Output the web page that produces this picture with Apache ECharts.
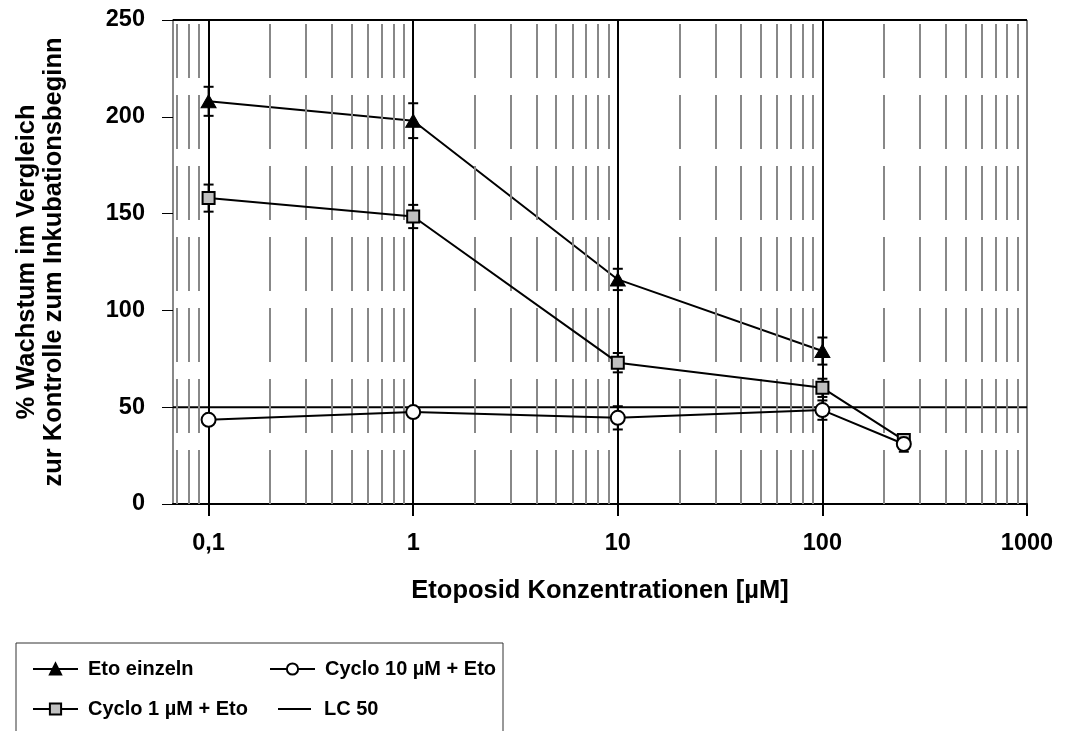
<!DOCTYPE html>
<html>
<head>
<meta charset="utf-8">
<script src="https://cdn.jsdelivr.net/npm/echarts@6/dist/echarts.min.js"></script>
<style>
html,body{margin:0;padding:0;background:#fff;}
#chart{width:1069px;height:731px;}
</style>
</head>
<body>
<div id="chart"></div>
<script>
// ---- data ----
const concentrations = [0.1, 1, 10, 100, 250];
const etoEinzeln      = [208, 198, 116, 79, null];
const etoEinzelnErr   = [7.5, 9, 5.5, 7, null];
const cyclo1          = [158, 148.5, 73, 60, 33];
const cyclo1Err       = [7, 6, 5, 4.7, 2];
const cyclo10         = [43.5, 47.5, 44.5, 48.5, 31];
const cyclo10Err      = [2, 2, 6, 5, 4];
const lc50Value       = 50;
const xTickValues     = [0.1, 1, 10, 100, 1000];
const seriesNames     = ['Eto einzeln', 'Cyclo 10 µM + Eto', 'Cyclo 1 µM + Eto', 'LC 50'];
const xMin = 0.067, xMax = 1000;

const FONT = "'Liberation Sans', Arial, sans-serif";

// minor log gridlines (2..9 within each decade) and major decade lines
const minorGrid = [];
[0.01, 0.1, 1, 10, 100].forEach(d => {
  for (let k = 2; k <= 9; k++) {
    const v = +(d * k).toPrecision(3);
    if (v > xMin && v < xMax) minorGrid.push(v);
  }
});
const majorGrid = [0.1, 1, 10, 100];

function pairs(vals) {
  return concentrations.map((c, i) => vals[i] == null ? null : [c, vals[i]]).filter(p => p);
}
function errRows(vals, errs) {
  return concentrations.map((c, i) => vals[i] == null ? null : [c, vals[i], errs[i]]).filter(p => p);
}

function errorSeries(vals, errs, z) {
  return {
    type: 'custom',
    data: errRows(vals, errs),
    z: z,
    silent: true,
    renderItem: function (params, api) {
      const x = api.value(0), y = api.value(1), e = api.value(2);
      const top = api.coord([x, y + e]);
      const bot = api.coord([x, y - e]);
      const w = 5;
      const style = { stroke: '#000', lineWidth: 2 };
      return {
        type: 'group',
        children: [
          { type: 'line', shape: { x1: top[0], y1: top[1], x2: bot[0], y2: bot[1] }, style: style },
          { type: 'line', shape: { x1: top[0] - w, y1: top[1], x2: top[0] + w, y2: top[1] }, style: style },
          { type: 'line', shape: { x1: bot[0] - w, y1: bot[1], x2: bot[0] + w, y2: bot[1] }, style: style }
        ]
      };
    }
  };
}

const chart = echarts.init(document.getElementById('chart'), null, { renderer: 'canvas' });

const legendText = { fontFamily: FONT, fontWeight: 'bold', fontSize: 20, color: '#000', padding: [0, 0, 0, 5] };
function legendAt(name, left, top, extra) {
  return Object.assign({
    data: [name], left: left, top: top, orient: 'horizontal',
    itemWidth: 45, itemHeight: 14, padding: 0, textStyle: legendText,
    selectedMode: false
  }, extra || {});
}

const option = {
  animation: false,
  backgroundColor: '#fff',
  grid: { left: 173, right: 42, top: 20, bottom: 227, show: true, borderColor: '#000', borderWidth: 1 },
  xAxis: {
    type: 'log',
    min: xMin, max: xMax, logBase: 10,
    name: 'Etoposid Konzentrationen [µM]',
    nameLocation: 'middle', nameGap: 74,
    nameTextStyle: { fontFamily: FONT, fontWeight: 'bold', fontSize: 25.5, color: '#000' },
    axisLine: { show: true, lineStyle: { color: '#000', width: 2 } },
    axisTick: { show: true, customValues: xTickValues, length: 12, inside: false, lineStyle: { color: '#000', width: 2 } },
    axisLabel: {
      customValues: xTickValues, margin: 28,
      fontFamily: FONT, fontWeight: 'bold', fontSize: 23.5, color: '#000',
      formatter: v => String(v).replace('.', ',')
    },
    splitLine: { show: false },
    minorTick: { show: false }, minorSplitLine: { show: false }
  },
  yAxis: {
    type: 'value', min: 0, max: 250, interval: 50,
    name: '% Wachstum im Vergleich\nzur Kontrolle zum Inkubationsbeginn',
    nameLocation: 'middle', nameGap: 106, nameRotate: 90,
    nameTextStyle: { fontFamily: FONT, fontWeight: 'bold', fontSize: 25.5, color: '#000', lineHeight: 27, align: 'center' },
    axisLine: { show: true, lineStyle: { color: '#888', width: 2 } },
    axisTick: { show: true, length: 11, inside: false, lineStyle: { color: '#000', width: 1 } },
    axisLabel: { margin: 28, fontFamily: FONT, fontWeight: 'bold', fontSize: 23.5, color: '#000' },
    splitLine: { show: false }
  },
  legend: [
    legendAt(seriesNames[0], 32, 659),
    legendAt(seriesNames[1], 269, 659),
    legendAt(seriesNames[2], 32, 699),
    legendAt(seriesNames[3], 278, 699, { data: [{ name: seriesNames[3], icon: 'rect' }], itemHeight: 2, itemWidth: 33, textStyle: Object.assign({}, legendText, { padding: [0, 0, 0, 8] }) })
  ],
  graphic: [
    { type: 'rect', shape: { x: 16, y: 643, width: 487, height: 120 }, style: { fill: 'none', stroke: '#333', lineWidth: 1 }, z: -1, silent: true }
  ],
  series: [
    {
      // gridlines drawn through the axis scale
      type: 'line', data: [], silent: true, z: 1,
      markLine: {
        silent: true, symbol: 'none', animation: false, label: { show: false },
        data: [
          ...minorGrid.map(v => ({ xAxis: v, lineStyle: { color: '#888', width: 2, type: [54, 17] } })),
          ...majorGrid.map(v => ({ xAxis: v, lineStyle: { color: '#000', width: 2, type: 'solid' } })),
          { yAxis: 250, lineStyle: { color: '#000', width: 2, type: 'solid' } }
        ]
      }
    },
    {
      name: seriesNames[3], type: 'line', z: 2,
      data: [[xMin, lc50Value], [xMax, lc50Value]],
      symbol: 'none', lineStyle: { color: '#000', width: 2 }, itemStyle: { color: '#000' }
    },
    errorSeries(etoEinzeln, etoEinzelnErr, 3),
    errorSeries(cyclo1, cyclo1Err, 3),
    errorSeries(cyclo10, cyclo10Err, 3),
    {
      name: seriesNames[0], type: 'line', z: 4, data: pairs(etoEinzeln),
      symbol: 'triangle', symbolSize: [15, 13],
      lineStyle: { color: '#000', width: 2 },
      itemStyle: { color: '#000', borderColor: '#000', borderWidth: 1 }
    },
    {
      name: seriesNames[2], type: 'line', z: 5, data: pairs(cyclo1),
      symbol: 'rect', symbolSize: 12,
      lineStyle: { color: '#000', width: 2 },
      itemStyle: { color: '#c0c0c0', borderColor: '#000', borderWidth: 2 }
    },
    {
      name: seriesNames[1], type: 'line', z: 6, data: pairs(cyclo10),
      symbol: 'circle', symbolSize: 14,
      lineStyle: { color: '#000', width: 2 },
      itemStyle: { color: '#fff', borderColor: '#000', borderWidth: 2 }
    }
  ]
};
chart.setOption(option);
</script>
</body>
</html>
